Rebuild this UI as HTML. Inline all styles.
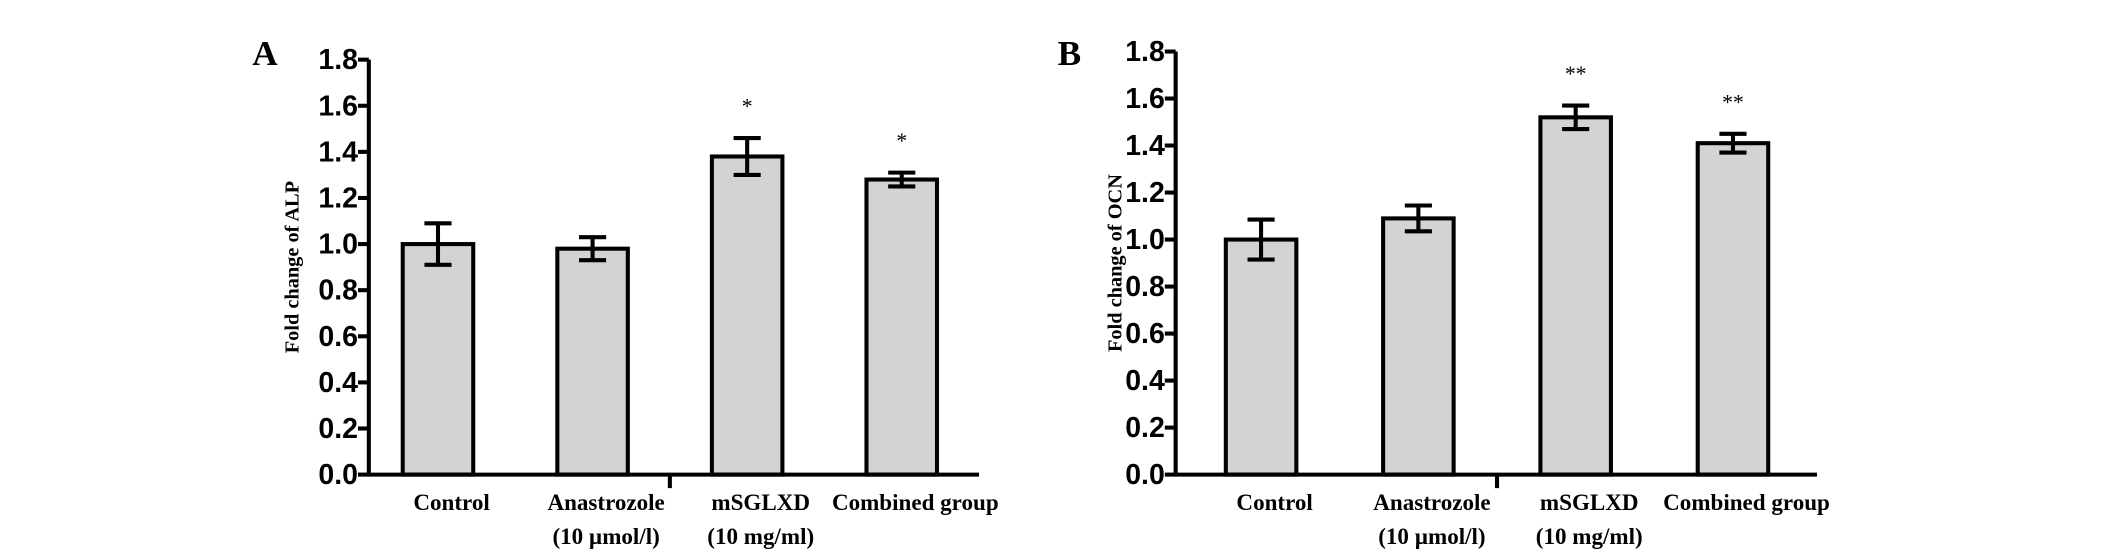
<!DOCTYPE html>
<html><head><meta charset="utf-8"><style>
html,body{margin:0;padding:0;background:#fff;}
svg{display:block;}
.tick{font-family:"Liberation Sans",Arial,sans-serif;font-weight:bold;font-size:21px;}
.cat{font-family:"Liberation Serif",serif;font-weight:bold;font-size:17px;}
.ttl{font-family:"Liberation Serif",serif;font-weight:bold;font-size:15px;}
.pl{font-family:"Liberation Serif",serif;font-weight:bold;font-size:26px;}
.star{font-family:"Liberation Serif",serif;font-size:16px;}
</style></head><body>
<svg id="chart" width="2126" height="553" xmlns="http://www.w3.org/2000/svg"><g id="root" transform="scale(1.356)"></g></svg>
<script>
const categories = ["Control", "Anastrozole|(10 \u00b5mol/l)", "mSGLXD|(10 mg/ml)", "Combined group"];
const alpValues = [1.00, 0.98, 1.38, 1.28];
const alpErrors = [0.09, 0.05, 0.08, 0.03];
const alpStars = ["", "", "*", "*"];
const ocnValues = [1.00, 1.09, 1.52, 1.41];
const ocnErrors = [0.085, 0.055, 0.05, 0.04];
const ocnStars = ["", "", "**", "**"];
const yTicks = [0.0, 0.2, 0.4, 0.6, 0.8, 1.0, 1.2, 1.4, 1.6, 1.8];

const NS = "http://www.w3.org/2000/svg";
const svg = document.getElementById("root");
function mk(tag, attrs, parent, text) {
  const e = document.createElementNS(NS, tag);
  for (const k in attrs) e.setAttribute(k, attrs[k]);
  if (text !== undefined) e.textContent = text;
  (parent || svg).appendChild(e);
  return e;
}

function panel(cfg) {
  const g = mk("g", {});
  
  
  const y = v => cfg.y0 - (v / 1.8) * (cfg.y0 - cfg.yTop);
  const x = i => cfg.firstCenter + i * cfg.step;
  const lbl = mk("text", {x: cfg.letterX, y: 48, class: "pl"}, g, cfg.letter);
  
  
  cfg.values.forEach((v, i) => {
    const r = mk("rect", {x: x(i) - 26, y: y(v), width: 52, height: y(0) - y(v), fill: "#d3d3d3", stroke: "#000", "stroke-width": 3}, g);
    
    
    const e = cfg.errors[i];
    const eb = mk("path", {d: `M${x(i)} ${y(v + e)}V${y(v - e)}M${x(i) - 10} ${y(v + e)}H${x(i) + 10}M${x(i) - 10} ${y(v - e)}H${x(i) + 10}`, stroke: "#000", "stroke-width": 3, fill: "none"}, g);
    
    
    if (cfg.stars[i]) {
      const s = mk("text", {x: x(i), y: y(v + e) - 18, "text-anchor": "middle", class: "star"}, g, cfg.stars[i]);
      
      
    }
    const parts = categories[i].split("|");
    parts.forEach((p, j) => {
      const t = mk("text", {x: x(i) + 10, y: 376 + j * 25, "text-anchor": "middle", class: "cat"}, g, p);
      
      
    });
  });
  const ya = mk("path", {d: `M${cfg.axisX} ${y(1.8)}V${y(0)}`, stroke: "#000", "stroke-width": 3}, g);
  
  
  yTicks.forEach(t => {
    const tk = mk("path", {d: `M${cfg.axisX - 8} ${y(t)}H${cfg.axisX}`, stroke: "#000", "stroke-width": 3}, g);
    
    
    const tl = mk("text", {x: cfg.axisX - 8, y: y(t) + 7, "text-anchor": "end", class: "tick"}, g, t.toFixed(1));
    
    
  });
  const xa = mk("path", {d: `M${cfg.axisX - 1} ${y(0)}H${cfg.axisEnd}M${(x(1) + x(2)) / 2} ${y(0)}V${y(0) + 10}`, stroke: "#000", "stroke-width": 3}, g);
  
  
  const tt = mk("text", {transform: `translate(${cfg.titleX},${(y(0) + y(1.8)) / 2}) rotate(-90)`, "text-anchor": "middle", class: "ttl"}, g, cfg.title);
  
  
}

panel({name: "panel-a-alp", letter: "A", letterX: 186, axisX: 272, axisEnd: 722, yTop: 44, y0: 350,
  firstCenter: 323, step: 114, values: alpValues, errors: alpErrors, stars: alpStars,
  title: "Fold change of ALP", titleX: 220});
panel({name: "panel-b-ocn", letter: "B", letterX: 780, axisX: 867, axisEnd: 1340, yTop: 38, y0: 350,
  firstCenter: 930, step: 116, values: ocnValues, errors: ocnErrors, stars: ocnStars,
  title: "Fold change of OCN", titleX: 827});
</script>
</body></html>
